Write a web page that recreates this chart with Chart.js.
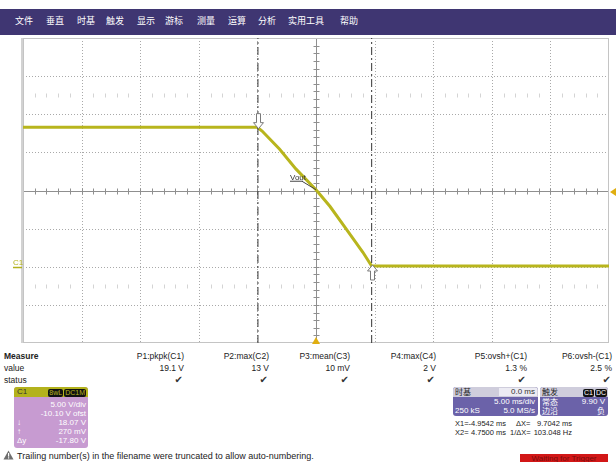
<!DOCTYPE html>
<html>
<head>
<meta charset="utf-8">
<script src="https://cdn.jsdelivr.net/npm/chart.js@4.4.0/dist/chart.umd.min.js"></script>
<style>
  body { margin: 0; width: 616px; height: 462px; overflow: hidden; background: #fff; position: relative;
         font-family: "Liberation Sans", Arial, sans-serif; color: #222; }
  #scope { position: absolute; left: 0; top: 0; }
  .menu { position: absolute; left: 0; top: 9px; width: 616px; height: 26px; background: #3f3672; }
  .menu span { position: absolute; top: 6px; color: #fff; font: 9px "Noto Sans CJK SC", sans-serif; line-height: 12px; }
  .t { position: absolute; font-size: 8.5px; line-height: 10px; white-space: nowrap; }
  .rd { font-size: 7.5px; }
  .cjk { font-family: "Noto Sans CJK SC", sans-serif; }
  .box { position: absolute; border-radius: 3px; overflow: hidden; }
  .badge { display: inline-block; background: #111; border-radius: 2px; padding: 0 1px; margin-left: 1px; line-height: 8px; font-size: 7px; }
</style>
</head>
<body>
<canvas id="scope" width="616" height="350"></canvas>
<div class="menu" id="menu"></div>

<div id="measure"></div>

<!-- C1 channel box -->
<div class="box" style="left:14px; top:387px; width:74px; height:61px; background:#c79bd1;">
  <div style="position:absolute; left:0; top:0; width:74px; height:10px; background:#b3b21c;"></div>
  <div class="t" style="left:3px; top:0; font-size:8px; color:#333;">C1</div>
  <div class="t" style="right:2px; top:1px; font-size:7px; color:#b3b21c;"><span class="badge">8wL</span><span class="badge">DC1M</span></div>
  <div class="t" style="right:2px; top:13px; color:#fff; font-size:8px;">5.00 V/div</div>
  <div class="t" style="right:2px; top:22px; color:#fff; font-size:8px;">-10.10 V ofst</div>
  <div class="t" style="left:3px; top:31px; color:#fff; font-size:8px;">↓</div>
  <div class="t" style="right:2px; top:31px; color:#fff; font-size:8px;">18.07 V</div>
  <div class="t" style="left:3px; top:40px; color:#fff; font-size:8px;">↑</div>
  <div class="t" style="right:2px; top:40px; color:#fff; font-size:8px;">270 mV</div>
  <div class="t" style="left:3px; top:49px; color:#fff; font-size:8px;">Δy</div>
  <div class="t" style="right:2px; top:49px; color:#fff; font-size:8px;">-17.80 V</div>
</div>

<!-- timebase box -->
<div class="box" style="left:453px; top:387px; width:85px; height:29px; background:#6b62a9;">
  <div style="position:absolute; left:0; top:0; width:85px; height:10px; background:#cfcddc;"></div>
  <div style="position:absolute; right:1px; top:1px; width:38px; height:8px; background:#ecebf3;"></div>
  <div class="t cjk" style="left:2px; top:0; font-size:8px; color:#222;">时基</div>
  <div class="t" style="right:3px; top:0; font-size:8px; color:#333;">0.0 ms</div>
  <div class="t" style="right:3px; top:10px; font-size:8px; color:#fff;">5.00 ms/div</div>
  <div class="t" style="left:2px; top:19px; font-size:8px; color:#fff;">250 kS</div>
  <div class="t" style="right:3px; top:19px; font-size:8px; color:#fff;">5.0 MS/s</div>
</div>

<!-- trigger box -->
<div class="box" style="left:540px; top:387px; width:68px; height:29px; background:#6b62a9;">
  <div style="position:absolute; left:0; top:0; width:68px; height:10px; background:#cfcddc;"></div>
  <div class="t cjk" style="left:2px; top:0; font-size:8px; color:#222;">触发</div>
  <div class="t" style="right:1px; top:1px; font-size:7px; color:#fff;"><span class="badge">C1</span><span class="badge">DC</span></div>
  <div class="t cjk" style="left:2px; top:10px; font-size:8px; color:#fff;">常态</div>
  <div class="t" style="right:3px; top:10px; font-size:8px; color:#fff;">9.90 V</div>
  <div class="t cjk" style="left:2px; top:19px; font-size:8px; color:#fff;">边沿</div>
  <div class="t cjk" style="right:3px; top:19px; font-size:8px; color:#fff;">负</div>
</div>

<!-- cursor readout -->
<div class="t rd" style="left:455px; top:419px;">X1=</div>
<div class="t rd" style="right:110px; top:419px;">-4.9542 ms</div>
<div class="t rd" style="left:516px; top:419px;">ΔX=</div>
<div class="t rd" style="right:44px; top:419px;">9.7042 ms</div>
<div class="t rd" style="left:455px; top:428px;">X2=</div>
<div class="t rd" style="right:110px; top:428px;">4.7500 ms</div>
<div class="t rd" style="left:510px; top:428px;">1/ΔX=</div>
<div class="t rd" style="right:44px; top:428px;">103.048 Hz</div>

<!-- status line -->
<svg style="position:absolute; left:3px; top:450px;" width="11" height="10" viewBox="0 0 11 10">
  <polygon points="5.5,0.5 10.5,9.5 0.5,9.5" fill="#6e6e6e"/>
  <rect x="5" y="3" width="1.2" height="3.6" fill="#fff"/>
  <rect x="5" y="7.3" width="1.2" height="1.2" fill="#fff"/>
</svg>
<div class="t" style="left:17px; top:451px; font-size:9px;">Trailing number(s) in the filename were truncated to allow auto-numbering.</div>
<div style="position:absolute; left:520px; top:454px; width:88px; height:10px; background:#d21717;"></div>
<div class="t" style="left:520px; top:454px; width:88px; text-align:center; font-size:8px; color:#7a0c0c;">Waiting for Trigger</div>

<script>
// menu bar
const menuItems = ["文件", "垂直", "时基", "触发", "显示", "游标", "测量", "运算", "分析", "实用工具", "帮助"];
const menuLeft = [15, 46, 77, 106, 137, 165, 197, 228, 258, 288, 340];

// measurement table
const measureNames = ["P1:pkpk(C1)", "P2:max(C2)", "P3:mean(C3)", "P4:max(C4)", "P5:ovsh+(C1)", "P6:ovsh-(C1)"];
const measureValues = ["19.1 V", "13 V", "10 mV", "2 V", "1.3 %", "2.5 %"];

// scope settings
const msPerDiv = 5;
const xDivs = 10;
const voltsPerDiv = 5;
const yDivs = 8;
const offsetVolts = -10.10;
const triggerLevel = 9.90;
const triggerTimeMs = 0;
const cursorMs = [-4.9542, 4.7500];

// C1 waveform, time in ms / volts
const timeMs = [-25, -20, -15, -10, -7, -5.0, -4.6, -3.1, -1.7, 0, 1.2, 2.6, 4.0, 4.75, 7, 10, 15, 20, 25];
const c1Volts = [18.4, 18.4, 18.4, 18.4, 18.4, 18.4, 17.9, 15.5, 12.9, 10.2, 8.0, 5.0, 2.0, 0.2, 0.2, 0.2, 0.2, 0.2, 0.2];

const menu = document.getElementById("menu");
menuItems.forEach((m, i) => {
  const s = document.createElement("span");
  s.textContent = m;
  s.style.left = menuLeft[i] + "px";
  menu.appendChild(s);
});

const colRight = [184, 269, 350, 436, 527, 612];
const measure = document.getElementById("measure");
let html = '<div class="t" style="left:4px; top:351px; font-weight:bold;">Measure</div>' +
  '<div class="t" style="left:4px; top:363px;">value</div>' +
  '<div class="t" style="left:4px; top:375px;">status</div>';
measureNames.forEach((name, i) => {
  const r = 616 - colRight[i];
  html += '<div class="t" style="right:' + r + 'px; top:351px;">' + name + '</div>' +
    '<div class="t" style="right:' + r + 'px; top:363px;">' + measureValues[i] + '</div>' +
    '<div class="t" style="right:' + (r + 1) + 'px; top:375px; font-family:\'DejaVu Sans\'; font-size:10px; color:#333;">✔</div>';
});
measure.innerHTML = html;

const xMin = -xDivs / 2 * msPerDiv;
const xMax = xDivs / 2 * msPerDiv;
const yCenter = -offsetVolts;
const yMin = yCenter - yDivs / 2 * voltsPerDiv;
const yMax = yCenter + yDivs / 2 * voltsPerDiv;

const tracePoints = timeMs.map((t, i) => ({x: t, y: c1Volts[i]}));

const valueAt = t => {
  for (let i = 1; i < timeMs.length; i++) {
    if (t <= timeMs[i]) {
      const f = (t - timeMs[i - 1]) / (timeMs[i] - timeMs[i - 1]);
      return c1Volts[i - 1] + f * (c1Volts[i] - c1Volts[i - 1]);
    }
  }
  return c1Volts[c1Volts.length - 1];
};

const line = (ctx, x1, y1, x2, y2) => {
  ctx.beginPath();
  ctx.moveTo(x1, y1);
  ctx.lineTo(x2, y2);
  ctx.stroke();
};

// graticule: dotted divisions, solid centre axes with minor ticks
const scopeGrid = {
  id: "scopeGrid",
  beforeDatasetsDraw(chart) {
    const {ctx, chartArea: a, scales: {x, y}} = chart;
    ctx.save();
    ctx.lineWidth = 1;
    ctx.strokeStyle = "#a9a9a9";
    ctx.setLineDash([1, 2]);
    for (let i = 1; i < xDivs; i++) {
      if (i === xDivs / 2) continue;
      const px = Math.round(x.getPixelForValue(xMin + i * msPerDiv)) + 0.5;
      line(ctx, px, a.top, px, a.bottom);
    }
    for (let j = 1; j < yDivs; j++) {
      if (j === yDivs / 2) continue;
      const py = Math.round(y.getPixelForValue(yMin + j * voltsPerDiv)) + 0.5;
      line(ctx, a.left, py, a.right, py);
    }
    ctx.setLineDash([]);

    // faint tick rows halfway up and down
    ctx.strokeStyle = "#d4d4d4";
    [yCenter + 2.5 * voltsPerDiv, yCenter - 2.5 * voltsPerDiv].forEach(v => {
      const py = Math.round(y.getPixelForValue(v)) + 0.5;
      for (let k = 1; k < xDivs * 5; k++) {
        if (k % 5 === 0) continue;
        const px = Math.round(x.getPixelForValue(xMin + k * msPerDiv / 5)) + 0.5;
        line(ctx, px, py - 2, px, py + 2);
      }
    });

    ctx.strokeStyle = "#8f8f8f";
    const cx = Math.round(x.getPixelForValue(0)) + 0.5;
    const cy = Math.round(y.getPixelForValue(yCenter)) + 0.5;
    line(ctx, cx, a.top, cx, a.bottom);
    line(ctx, a.left, cy, a.right, cy);
    for (let k = 1; k < xDivs * 5; k++) {
      const px = Math.round(x.getPixelForValue(xMin + k * msPerDiv / 5)) + 0.5;
      line(ctx, px, cy - 3, px, cy + 3);
    }
    for (let k = 1; k < yDivs * 5; k++) {
      const py = Math.round(y.getPixelForValue(yMin + k * voltsPerDiv / 5)) + 0.5;
      line(ctx, cx - 3, py, cx + 3, py);
    }

    ctx.strokeStyle = "#c4c4c4";
    ctx.strokeRect(a.left + 0.5, a.top + 0.5, a.right - a.left - 1, a.bottom - a.top - 1);
    ctx.fillStyle = "#d2d2d2";
    ctx.fillRect(a.left - 2, a.top, 2, a.bottom - a.top);
    ctx.restore();
  }
};

const arrow = (ctx, px, tipY, dir) => {
  // dir = 1 points down, -1 points up
  const h = 15, head = 6;
  ctx.beginPath();
  ctx.moveTo(px, tipY);
  ctx.lineTo(px - 5, tipY - dir * head);
  ctx.lineTo(px - 2, tipY - dir * head);
  ctx.lineTo(px - 2, tipY - dir * h);
  ctx.lineTo(px + 2, tipY - dir * h);
  ctx.lineTo(px + 2, tipY - dir * head);
  ctx.lineTo(px + 5, tipY - dir * head);
  ctx.closePath();
  ctx.fillStyle = "#fff";
  ctx.fill();
  ctx.strokeStyle = "#7a7a7a";
  ctx.stroke();
};

// channel / trigger markers, cursor arrows, trace label
const scopeMarkers = {
  id: "scopeMarkers",
  afterDatasetsDraw(chart) {
    const {ctx, chartArea: a, scales: {x, y}} = chart;
    ctx.save();
    ctx.lineWidth = 1;

    const y0 = y.getPixelForValue(0);
    ctx.fillStyle = "#b3b21c";
    ctx.font = "8px 'Liberation Sans'";
    ctx.textAlign = "left";
    ctx.textBaseline = "alphabetic";
    ctx.fillText("C1", 13, y0 - 3);
    ctx.strokeStyle = "#b3b21c";
    ctx.lineWidth = 1.5;
    line(ctx, 13, y0, 22, y0);

    ctx.fillStyle = "#e0ae10";
    const yt = y.getPixelForValue(triggerLevel);
    ctx.beginPath();
    ctx.moveTo(a.right + 1, yt);
    ctx.lineTo(a.right + 7, yt - 4);
    ctx.lineTo(a.right + 7, yt + 4);
    ctx.closePath();
    ctx.fill();
    const xt = x.getPixelForValue(triggerTimeMs);
    ctx.beginPath();
    ctx.moveTo(xt, a.bottom - 6);
    ctx.lineTo(xt - 4, a.bottom + 1);
    ctx.lineTo(xt + 4, a.bottom + 1);
    ctx.closePath();
    ctx.fill();

    ctx.lineWidth = 1;
    arrow(ctx, Math.round(x.getPixelForValue(cursorMs[0])) + 0.5, y.getPixelForValue(valueAt(cursorMs[0])) + 1, 1);
    arrow(ctx, Math.round(x.getPixelForValue(cursorMs[1])) + 0.5, y.getPixelForValue(valueAt(cursorMs[1])) - 1, -1);

    const lx = x.getPixelForValue(triggerTimeMs);
    const ly = y.getPixelForValue(valueAt(triggerTimeMs));
    ctx.strokeStyle = "#444";
    line(ctx, lx - 26, ly - 8.5, lx - 13, ly - 8.5);
    line(ctx, lx - 14, ly - 8.5, lx, ly);
    ctx.fillStyle = "#333";
    ctx.font = "8px 'Liberation Sans'";
    ctx.fillText("Vout", lx - 26, ly - 10);
    ctx.restore();
  }
};

const cursorSet = t => ({
  data: [{x: t, y: yMin}, {x: t, y: yMax}],
  borderColor: "#333",
  borderWidth: 1,
  borderDash: [8, 3, 2, 3],
  pointRadius: 0,
  order: 1
});

new Chart(document.getElementById("scope"), {
  type: "line",
  data: {
    datasets: [
      {
        data: tracePoints,
        borderColor: "#b8b51d",
        borderWidth: 3,
        pointRadius: 0,
        tension: 0,
        order: 2
      },
      cursorSet(cursorMs[0]),
      cursorSet(cursorMs[1])
    ]
  },
  options: {
    responsive: false,
    animation: false,
    devicePixelRatio: 1,
    layout: {padding: {left: 23, top: 38, right: 7, bottom: 7}},
    scales: {
      x: {type: "linear", min: xMin, max: xMax, display: false},
      y: {type: "linear", min: yMin, max: yMax, display: false}
    },
    plugins: {legend: {display: false}, tooltip: {enabled: false}}
  },
  plugins: [scopeGrid, scopeMarkers]
});
</script>
</body>
</html>
